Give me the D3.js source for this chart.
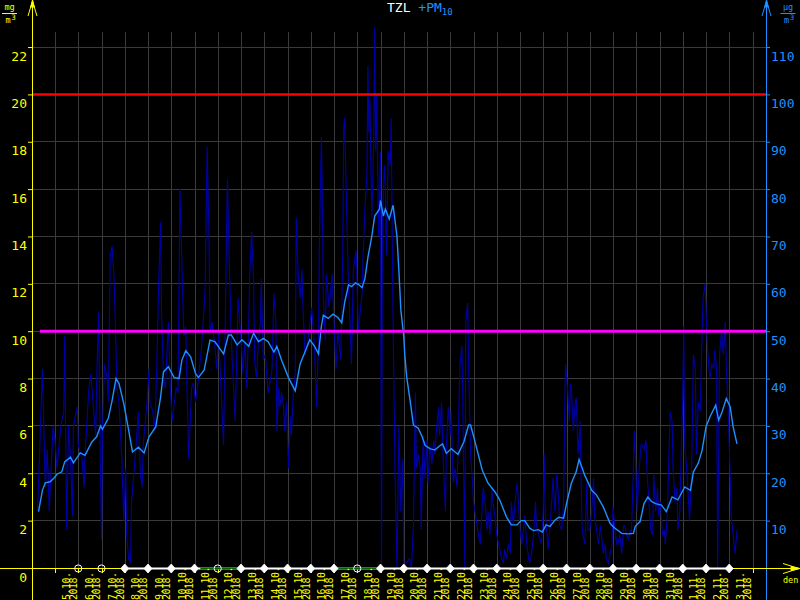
<!DOCTYPE html>
<html><head><meta charset="utf-8">
<script src="https://cdn.jsdelivr.net/npm/d3@7"></script>
<style>
html,body{margin:0;padding:0;background:#000;}
svg{display:block;}
</style></head><body>
<svg id="c" width="800" height="600"></svg>
<script>
// ---------------- data ----------------
const leftTicks = [0,2,4,6,8,10,12,14,16,18,20,22];          // mg/m3
const rightTicks = [10,20,30,40,50,60,70,80,90,100,110];     // µg/m3
const dayLabels = ["5.10.","6.10.","7.10.","8.10.","9.10.","10.10.","11.10.","12.10.","13.10.","14.10.",
  "15.10.","16.10.","17.10.","18.10.","19.10.","20.10.","21.10.","22.10.","23.10.","24.10.","25.10.",
  "26.10.","27.10.","28.10.","29.10.","30.10.","31.10.","1.11.","2.11.","3.11."];
const yearLabel = "2018";
const limitRed = 100;      // µg/m3
const limitMagenta = 50;   // µg/m3
// hourly PM10 [hour since 4.10.2018 00:00, µg/m3]
const pm10Hourly = [[6,12],[9,30],[11,42],[14,17],[16,25],[18,12],[22,30],[24,27],[26,21],[30,30],[33,33],[34,49],[36,8],[38,30],[40,23],[42,11],[43,30],[47,34],[48,26],[52,23],[54,17],[55,24],[59,38],[61,41],[64,33],[66,28],[67,39],[69,54],[71,19],[72,6],[73,29],[75,43],[78,40],[79,35],[81,66],[83,68],[85,61],[86,54],[88,38],[90,35],[93,23],[95,10],[97,21],[98,7],[100,2],[102,1],[103,14],[107,24],[110,33],[112,20],[114,17],[115,26],[119,35],[121,42],[122,35],[125,33],[127,29],[129,42],[131,60],[133,73],[134,54],[136,40],[138,38],[141,52],[143,38],[145,31],[146,33],[149,38],[151,37],[153,80],[155,64],[157,49],[159,51],[160,40],[162,23],[165,38],[167,39],[169,35],[171,38],[172,40],[175,46],[177,52],[179,59],[181,89],[183,70],[184,50],[186,52],[189,47],[191,42],[193,50],[194,44],[198,26],[201,70],[202,82],[204,64],[206,48],[210,31],[213,57],[217,45],[218,41],[220,48],[222,38],[224,52],[225,62],[227,71],[229,61],[230,44],[232,40],[234,48],[236,52],[237,61],[239,44],[241,45],[244,37],[248,42],[250,58],[252,52],[253,29],[255,38],[256,34],[258,37],[260,34],[261,29],[263,35],[265,21],[267,32],[268,28],[270,37],[272,41],[273,74],[275,62],[277,57],[279,63],[280,55],[282,45],[285,48],[289,55],[292,46],[294,34],[296,48],[297,70],[299,91],[300,77],[301,57],[303,48],[304,62],[307,55],[310,62],[311,57],[314,42],[316,50],[317,48],[319,44],[321,66],[322,93],[323,95],[324,85],[327,59],[328,55],[330,43],[332,63],[334,66],[335,67],[337,50],[339,54],[341,58],[342,66],[344,76],[346,83],[347,106],[348,92],[349,99],[351,74],[353,90],[354,114],[355,88],[356,100],[358,70],[360,88],[361,0],[362,73],[364,85],[365,81],[366,66],[368,88],[370,85],[371,95],[373,52],[375,20],[377,0],[379,30],[381,12],[383,23],[384,0],[386,1],[390,2],[392,0],[394,9],[396,37],[397,21],[399,24],[401,21],[402,8],[404,28],[406,19],[408,27],[409,18],[411,26],[413,22],[415,27],[416,24],[418,30],[420,34],[421,28],[423,35],[425,21],[427,12],[428,26],[430,34],[432,28],[433,33],[435,18],[437,21],[439,17],[440,25],[442,43],[444,47],[445,35],[447,0],[448,52],[450,56],[451,42],[453,24],[455,18],[456,14],[459,10],[461,7],[463,5],[464,9],[466,17],[468,14],[470,8],[471,12],[473,7],[475,17],[476,14],[478,11],[480,7],[482,5],[483,4],[485,2],[487,1],[488,4],[490,2],[492,5],[494,3],[495,14],[497,9],[499,14],[501,18],[502,15],[504,8],[506,5],[507,7],[509,11],[511,5],[513,2],[514,1],[516,3],[518,7],[520,14],[521,9],[523,7],[525,6],[526,5],[528,12],[529,24],[530,12],[532,7],[533,4],[535,9],[537,15],[538,19],[540,12],[542,20],[544,14],[545,9],[547,8],[549,14],[550,31],[551,43],[553,38],[555,31],[556,39],[557,38],[559,29],[561,35],[562,36],[564,24],[566,31],[568,9],[569,7],[571,5],[573,18],[574,8],[576,8],[578,12],[580,19],[581,11],[583,8],[585,5],[587,9],[588,7],[590,3],[592,5],[593,2],[595,1],[597,3],[599,5],[600,13],[602,8],[604,5],[605,5],[607,7],[609,3],[611,9],[612,9],[614,7],[616,6],[618,8],[619,7],[621,21],[622,29],[623,24],[625,12],[627,21],[629,26],[630,26],[632,25],[634,27],[635,21],[637,14],[639,8],[641,7],[642,20],[644,12],[646,17],[647,11],[649,14],[651,7],[653,8],[654,5],[656,11],[658,26],[659,33],[661,31],[662,21],[664,14],[666,17],[667,8],[669,12],[671,29],[672,36],[673,51],[674,26],[676,21],[678,14],[679,10],[681,19],[683,45],[685,42],[686,24],[688,35],[690,33],[691,42],[693,57],[695,60],[696,55],[697,49],[698,45],[700,40],[702,43],[704,42],[705,46],[707,42],[708,0],[710,45],[712,50],[714,45],[716,52],[717,42],[719,33],[721,19],[722,11],[724,7],[726,3],[728,8]];
// 24h running mean PM10 [hour, µg/m3]
const pm10Mean = [[7,11.9],[11,16.4],[14,18.0],[19,18.2],[23,19.0],[26,19.8],[31,20.3],[34,22.4],[40,23.4],[43,22.2],[50,24.3],[55,23.8],[62,26.6],[67,27.7],[71,30.0],[73,29.3],[79,31.6],[83,35.4],[87,40.0],[90,39.0],[95,34.7],[100,29.1],[104,24.5],[110,25.5],[116,24.3],[121,27.7],[128,29.8],[133,36.1],[136,41.4],[141,42.5],[147,40.2],[152,40.0],[155,43.9],[159,45.9],[164,44.6],[169,41.1],[172,40.2],[178,41.8],[184,48.1],[189,47.8],[198,45.2],[203,49.2],[206,49.2],[212,47.1],[217,48.2],[224,46.8],[229,49.6],[234,47.8],[239,48.5],[244,47.8],[250,45.6],[253,46.8],[258,43.8],[265,40.2],[272,37.4],[277,43.1],[282,45.6],[287,48.2],[292,46.8],[296,45.2],[299,51.1],[301,53.4],[306,52.7],[311,53.6],[316,52.9],[320,51.8],[323,56.1],[327,59.8],[330,59.4],[334,60.2],[337,59.9],[341,59.2],[344,61.2],[347,65.6],[351,70.0],[354,74.3],[359,75.8],[360,77.6],[363,74.3],[365,75.8],[369,73.7],[373,76.6],[377,70.0],[379,62.7],[381,54.5],[384,48.9],[385,45.2],[387,40.4],[391,34.7],[394,30.2],[399,29.5],[403,27.7],[406,25.9],[411,25.2],[416,24.9],[420,25.6],[424,26.2],[428,24.2],[433,25.2],[437,24.5],[440,24.0],[446,26.6],[451,30.2],[453,30.2],[458,26.3],[465,20.7],[471,17.9],[478,16.1],[483,14.4],[490,10.8],[495,9.1],[501,9.1],[505,10.0],[509,10.0],[514,8.4],[518,7.9],[523,8.1],[527,7.6],[531,9.1],[535,8.8],[540,10.1],[544,10.7],[549,10.5],[552,13.6],[557,17.9],[562,20.3],[565,22.9],[571,19.5],[578,16.4],[583,15.4],[590,12.9],[597,9.4],[602,8.4],[609,7.3],[616,7.2],[621,7.3],[623,8.8],[628,9.8],[632,13.6],[636,15.0],[640,14.0],[644,13.6],[650,13.3],[655,11.9],[661,15.0],[667,14.4],[674,17.1],[680,16.4],[683,20.3],[688,22.1],[692,24.9],[696,29.8],[700,31.9],[706,34.4],[709,31.2],[712,32.6],[717,35.8],[721,34.0],[724,29.8],[728,26.2]];
// data-status markers at day boundaries 6.10. ... 3.11. ('o' = incomplete, 'd' = complete)
const markerTypes = ["o","o","d","d","d","d","o","d","d","d","d","d","o","d","d","d","d","d","d","d","d","d","d","d","d","d","d","d","d"];
// periods (days after 5.10.) flagged green
const greenSpans = [[6.25,7.85],[12.15,13.85]];

// ---------------- drawing ----------------
const YEL = "#ffff00", BLUE = "#1e90ff", DARK = "#0000a8", GRID = "#3a3a3a";
const FONT = "'DejaVu Sans Mono', monospace";
const svg = d3.select("#c");
svg.append("rect").attr("width",800).attr("height",600).attr("fill","#000");

const t0 = Date.UTC(2018,9,4);
const hourDate = h => new Date(t0 + h*3600e3);
const dayDate = k => new Date(Date.UTC(2018,9,5+k));
const x = d3.scaleUtc().domain([new Date(t0), new Date(Date.UTC(2018,10,5))]).range([31.75, 775.75]);
const yR = d3.scaleLinear().domain([0,110]).range([568, 47.04]);
const yL = d3.scaleLinear().domain([0,22]).range([568, 47.04]);

// grid
const grid = svg.append("g").attr("stroke", GRID).attr("stroke-width",1).attr("shape-rendering","crispEdges");
leftTicks.filter(v => v > 0).forEach(v => {
  grid.append("line").attr("x1",32).attr("x2",766).attr("y1",yL(v)).attr("y2",yL(v));
});
d3.range(0, 31).forEach(k => {
  const xx = Math.round(x(dayDate(k))) + 0.5;
  grid.append("line").attr("x1",xx).attr("x2",xx).attr("y1",32).attr("y2",568);
});

// hourly series
const line = d3.line().x(d => x(hourDate(d[0]))).y(d => yR(d[1]));
svg.append("path").datum(pm10Hourly).attr("d", line)
  .attr("fill","none").attr("stroke", DARK).attr("stroke-width",1.1);
// running mean
svg.append("path").datum(pm10Mean).attr("d", line)
  .attr("fill","none").attr("stroke", BLUE).attr("stroke-width",1.4);

// limits
svg.append("line").attr("x1",32).attr("x2",766).attr("y1",yR(limitRed)).attr("y2",yR(limitRed))
  .attr("stroke","#ff0000").attr("stroke-width",2.5);
svg.append("line").attr("x1",40).attr("x2",766).attr("y1",yR(limitMagenta)).attr("y2",yR(limitMagenta))
  .attr("stroke","#ff00ff").attr("stroke-width",3);

// axes lines
svg.append("line").attr("x1",32.5).attr("x2",32.5).attr("y1",0).attr("y2",600).attr("stroke",YEL);
svg.append("line").attr("x1",766.5).attr("x2",766.5).attr("y1",0).attr("y2",600).attr("stroke",BLUE);
svg.append("line").attr("x1",0).attr("x2",797).attr("y1",568.5).attr("y2",568.5).attr("stroke",YEL);
// arrows
function upArrow(cx, col){
  svg.append("path").attr("d",`M${cx-4.5},16 L${cx},1 L${cx+4.5},16`).attr("fill","none").attr("stroke",col);
  svg.append("path").attr("d",`M${cx-1.8},7 L${cx},0 L${cx+1.8},7 Z`).attr("fill",col).attr("stroke",col);
}
upArrow(32.5, YEL); upArrow(766.5, BLUE);
svg.append("path").attr("d","M783,563.5 L799,568.5 L783,573.5").attr("fill","none").attr("stroke",YEL);
svg.append("path").attr("d","M791,566.5 L800,568.5 L791,570.5 Z").attr("fill",YEL).attr("stroke",YEL);

// y axes
const gL = svg.append("g").attr("transform","translate(32,0)")
  .call(d3.axisLeft(yL).tickValues(leftTicks).tickSize(4).tickPadding(1).tickFormat(d3.format("d")));
gL.attr("font-family", FONT).attr("font-size", 13);
gL.select(".domain").remove();
gL.selectAll(".tick line").attr("stroke", YEL);
gL.selectAll(".tick text").attr("fill", YEL).attr("dy", null).attr("y", 13);

const gR = svg.append("g").attr("transform","translate(766,0)")
  .call(d3.axisRight(yR).tickValues(rightTicks).tickSize(4).tickPadding(1).tickFormat(d3.format("d")));
gR.attr("font-family", FONT).attr("font-size", 13);
gR.select(".domain").remove();
gR.selectAll(".tick line").attr("stroke", BLUE);
gR.selectAll(".tick text").attr("fill", BLUE).attr("dy", null).attr("y", 13);

// status line on x axis
d3.range(0, 31).forEach(k => {
  const xx = Math.round(x(dayDate(k))) + 0.5;
  svg.append("line").attr("x1",xx).attr("x2",xx).attr("y1",568).attr("y2",573).attr("stroke",YEL);
});
svg.append("line").attr("x1", x(dayDate(3))).attr("x2", x(dayDate(29))).attr("y1",568.5).attr("y2",568.5)
  .attr("stroke","#fff").attr("stroke-width",2);
greenSpans.forEach(s => {
  svg.append("line").attr("x1", x(new Date(Date.UTC(2018,9,5) + s[0]*864e5)))
    .attr("x2", x(new Date(Date.UTC(2018,9,5) + s[1]*864e5)))
    .attr("y1",568.5).attr("y2",568.5).attr("stroke","#006400").attr("stroke-width",2);
});
markerTypes.forEach((m, i) => {
  const xx = x(dayDate(i+1));
  if (m === "d") {
    svg.append("path").attr("d",`M${xx},${564} L${xx+4},568.5 L${xx},${573} L${xx-4},568.5 Z`)
      .attr("fill","#fff").attr("stroke","#fff").attr("stroke-width",0.8).attr("stroke-linejoin","round");
  } else {
    svg.append("circle").attr("cx",xx).attr("cy",568.5).attr("r",3.6)
      .attr("fill","none").attr("stroke","#fff").attr("stroke-width",1);
  }
});

// x labels (rotated)
dayLabels.forEach((lab, k) => {
  const xx = x(dayDate(k));
  svg.append("text").attr("transform",`translate(${xx+14.5},600) rotate(-90)`)
    .attr("font-family",FONT).attr("font-size",10).attr("letter-spacing","-0.5px")
    .attr("fill",YEL).text(lab);
  svg.append("text").attr("transform",`translate(${xx+22},600) rotate(-90)`)
    .attr("font-family",FONT).attr("font-size",10).attr("letter-spacing","-0.5px")
    .attr("fill",YEL).text(yearLabel);
});
svg.append("text").attr("x",783).attr("y",583).attr("font-family",FONT).attr("font-size",8.5)
  .attr("fill",YEL).text("den");

// unit labels
function unit(cx, col, top){
  const g = svg.append("g").attr("font-family",FONT).attr("fill",col);
  g.append("text").attr("x",cx).attr("y",10).attr("text-anchor","middle").attr("font-size",8.5).text(top);
  g.append("line").attr("x1",cx-7.5).attr("x2",cx+7.5).attr("y1",13.5).attr("y2",13.5).attr("stroke",col);
  g.append("text").attr("x",cx-1.5).attr("y",23).attr("text-anchor","middle").attr("font-size",8.5).text("m");
  g.append("text").attr("x",cx+4).attr("y",19.5).attr("text-anchor","middle").attr("font-size",7.5).text("3");
}
unit(9.5, YEL, "mg");
unit(788, BLUE, "µg");

// title
const title = svg.append("text").attr("x",387).attr("y",12).attr("font-family",FONT).attr("font-size",13);
title.append("tspan").attr("fill","#fff").text("TZL ");
title.append("tspan").attr("fill",BLUE).text("+PM");
title.append("tspan").attr("fill",BLUE).attr("font-size",9).attr("dy",2.5).text("10");
</script>
</body></html>
